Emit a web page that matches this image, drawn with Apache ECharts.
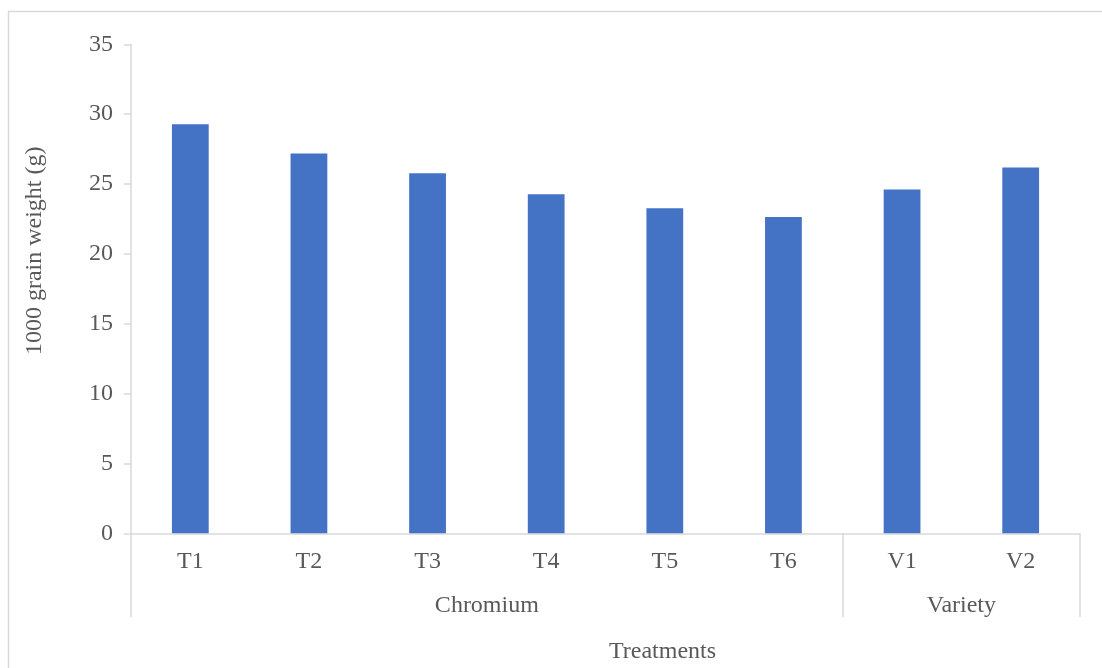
<!DOCTYPE html>
<html>
<head>
<meta charset="utf-8">
<title>1000 grain weight by treatment</title>
<script src="https://cdn.jsdelivr.net/npm/echarts@6/dist/echarts.min.js"></script>
<style>
  html, body { margin: 0; padding: 0; background: #ffffff; }
  #chart { width: 1102px; height: 668px; }
</style>
</head>
<body>
<div id="chart"></div>
<script>
// Treatment categories and their 1000 grain weight (g)
const categories = ['T1', 'T2', 'T3', 'T4', 'T5', 'T6', 'V1', 'V2'];
const grainWeight = [29.27, 27.18, 25.77, 24.26, 23.26, 22.64, 24.6, 26.18];

// Outer category groups and how many treatments each spans
const groupNames = ['Chromium', 'Variety'];
const groupSizes = [6, 2];

// Y axis range
const yMin = 0;
const yMax = 35;
const yStep = 5;

// Boundaries and centres of the category groups, in category units
const groupEdges = [0];
const groupCentres = [];
groupSizes.forEach(function (n) {
  const start = groupEdges[groupEdges.length - 1];
  groupCentres.push(start + n / 2);
  groupEdges.push(start + n);
});

const FONT = '"Liberation Serif", "Times New Roman", serif';
const TEXT = '#595959';
const LINE = '#d9d9d9';

const chart = echarts.init(document.getElementById('chart'), null, { renderer: 'canvas' });

chart.setOption({
  animation: false,
  backgroundColor: '#ffffff',
  grid: {
    left: 131, right: 22, top: 44.3, bottom: 134.7,
    containLabel: false,
    outerBoundsMode: 'none'
  },
  xAxis: [
    {
      type: 'category',
      data: categories,
      position: 'bottom',
      axisLine: { show: true, lineStyle: { color: LINE, width: 1.5 } },
      axisTick: { show: false },
      axisLabel: { color: TEXT, fontFamily: FONT, fontSize: 24, margin: 16 },
      splitLine: { show: false }
    },
    {
      // group level of the category axis: dividers and group names
      type: 'value',
      min: 0,
      max: categories.length,
      position: 'bottom',
      axisLine: { show: false },
      axisTick: {
        show: true,
        customValues: groupEdges,
        length: 84,
        lineStyle: { color: LINE, width: 1.5 }
      },
      axisLabel: {
        show: true,
        customValues: groupCentres,
        formatter: function (v) {
          const i = groupCentres.indexOf(v);
          return i >= 0 ? groupNames[i] : '';
        },
        color: TEXT, fontFamily: FONT, fontSize: 24, margin: 60
      },
      splitLine: { show: false },
      name: 'Treatments',
      nameLocation: 'middle',
      nameGap: 106,
      nameTextStyle: { color: TEXT, fontFamily: FONT, fontSize: 24, padding: [0, 0, 0, 114] }
    }
  ],
  yAxis: {
    type: 'value',
    min: yMin,
    max: yMax,
    interval: yStep,
    axisLine: { show: true, lineStyle: { color: LINE, width: 1.5 } },
    axisTick: { show: true, length: 7, lineStyle: { color: LINE, width: 1.5 } },
    axisLabel: { color: TEXT, fontFamily: FONT, fontSize: 24, margin: 18 },
    splitLine: { show: false },
    name: '1000 grain weight (g)',
    nameLocation: 'middle',
    nameGap: 84,
    nameTextStyle: { color: TEXT, fontFamily: FONT, fontSize: 24, padding: [0, 0, 0, 76] }
  },
  series: [
    {
      type: 'bar',
      xAxisIndex: 0,
      data: grainWeight,
      barWidth: '31%',
      itemStyle: { color: '#4472C4' }
    }
  ],
  graphic: [
    // chart area frame (top and left edges)
    {
      type: 'polyline',
      silent: true,
      shape: { points: [[8.5, 668], [8.5, 11.5], [1102, 11.5]] },
      style: { stroke: LINE, lineWidth: 1.5, fill: null }
    }
  ]
});
</script>
</body>
</html>
